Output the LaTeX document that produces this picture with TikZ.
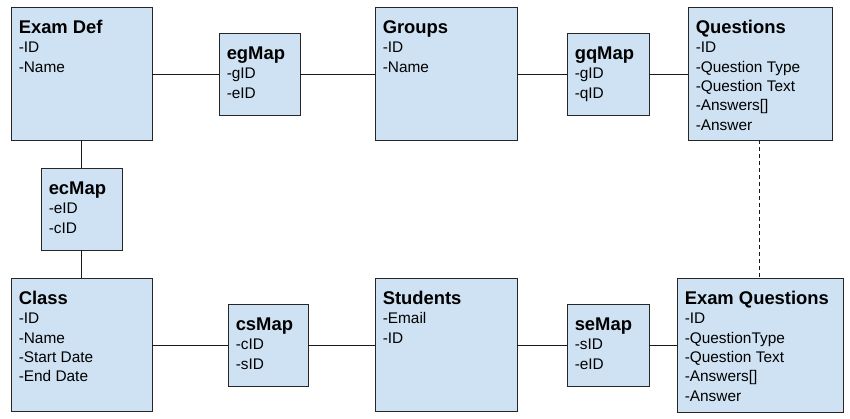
\documentclass[tikz,border=0pt]{standalone}
\usepackage{fontspec}
\setmainfont{Liberation Sans}
\usetikzlibrary{fit}
\definecolor{boxfill}{HTML}{CFE2F3}
\tikzset{
  ent/.style={draw=black!85, line width=0.9pt, fill=boxfill, rectangle, inner sep=0pt},
  conn/.style={draw=black!90, line width=0.9pt},
  lbl/.style={anchor=base west, inner sep=0pt, font=\fontsize{15.4}{19.3}\selectfont},
}
\newcommand{\entbox}[7]{%
  \node[ent, fit={(#2,#3) (#4,#5)}] (#1) {};
  \node[lbl] (#1-t) at ([xshift=8pt,yshift=-27pt]#1.north west)
    {\begin{tabular}[t]{@{}l@{}}{\fontsize{18.4}{19.3}\selectfont\bfseries #6}\\#7\end{tabular}};
}
\begin{document}
\begin{tikzpicture}[x=1pt,y=-1pt]
\fill[white] (0,0) rectangle (850,419);
\useasboundingbox (0,0) rectangle (850,419);
% connectors first (behind boxes)
\coordinate (c0) at (0,0);
\entbox{examdef}{11}{7}{152}{140}{Exam Def}{-ID\\-Name}
\entbox{egmap}{219}{33}{300}{115}{egMap}{-gID\\-eID}
\entbox{groups}{375}{7}{517}{140}{Groups}{-ID\\-Name}
\entbox{gqmap}{567}{33}{649}{115}{gqMap}{-gID\\-qID}
\entbox{questions}{688}{7}{832}{140}{Questions}{-ID\\-Question Type\\-Question Text\\-Answers[]\\-Answer}
\entbox{ecmap}{41}{168}{122}{250}{ecMap}{-eID\\-cID}
\entbox{class}{11}{278}{152}{411}{Class}{-ID\\-Name\\-Start Date\\-End Date}
\entbox{csmap}{228}{304}{308}{386}{csMap}{-cID\\-sID}
\entbox{students}{375}{278}{517}{411}{Students}{-Email\\-ID}
\entbox{semap}{567}{304}{649}{386}{seMap}{-sID\\-eID}
\entbox{examq}{677}{278}{843}{412}{Exam Questions}{-ID\\-QuestionType\\-Question Text\\-Answers[]\\-Answer}
\draw[conn] (examdef.east |- egmap.west) -- (egmap.west);
\draw[conn] (egmap.east) -- (egmap.east -| groups.west);
\draw[conn] (groups.east |- gqmap.west) -- (gqmap.west);
\draw[conn] (gqmap.east) -- (gqmap.east -| questions.west);
\draw[conn] (examdef.south -| ecmap.north) -- (ecmap.north);
\draw[conn] (ecmap.south) -- (ecmap.south |- class.north);
\draw[conn] (class.east |- csmap.west) -- (csmap.west);
\draw[conn] (csmap.east) -- (csmap.east -| students.west);
\draw[conn] (students.east |- semap.west) -- (semap.west);
\draw[conn] (semap.east) -- (semap.east -| examq.west);
\draw[conn, dash pattern=on 4pt off 3pt] (questions.south -| 759,0) -- (examq.north -| 759,0);
\end{tikzpicture}
\end{document}
